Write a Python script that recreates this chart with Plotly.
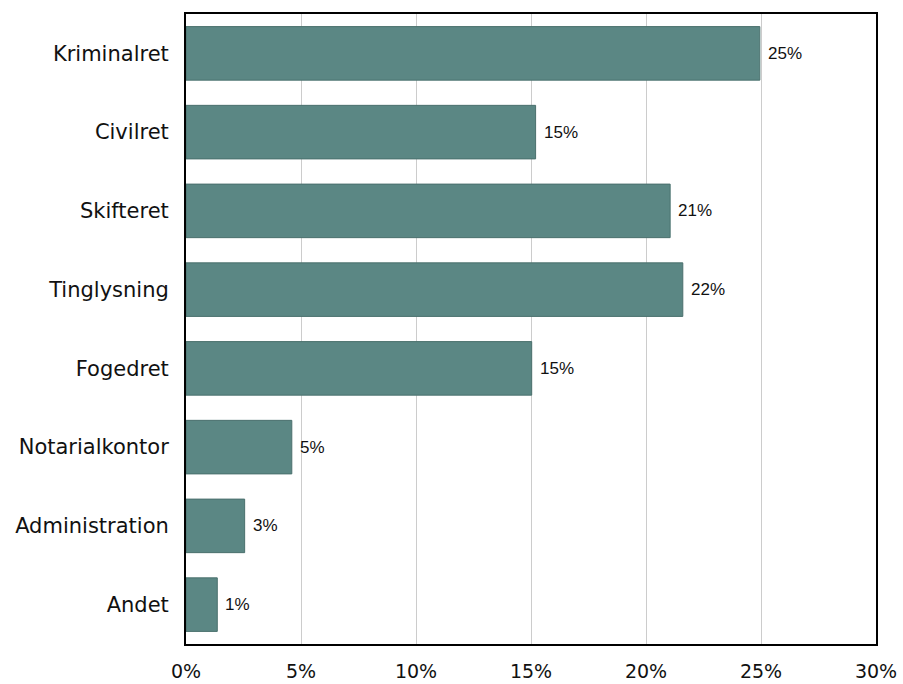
import plotly.graph_objects as go

categories = ["Kriminalret", "Civilret", "Skifteret", "Tinglysning", "Fogedret",
              "Notarialkontor", "Administration", "Andet"]
values = [24.95, 15.2, 21.05, 21.6, 15.03, 4.6, 2.55, 1.36]
labels = ["25%", "15%", "21%", "22%", "15%", "5%", "3%", "1%"]
x_ticks = [0, 5, 10, 15, 20, 25, 30]
x_tick_labels = ["0%", "5%", "10%", "15%", "20%", "25%", "30%"]

fig = go.Figure()
fig.add_trace(go.Bar(
    x=values, y=categories, orientation="h",
    marker=dict(color="#5b8784", line=dict(color="#4a706d", width=1)),
    hoverinfo="x+y",
))

for c, v, t in zip(categories, values, labels):
    fig.add_annotation(x=v, y=c, text=t, showarrow=False, xanchor="left",
                       xshift=6, font=dict(family="Liberation Sans, Arial", size=17, color="#111111"))

fig.update_layout(
    width=903, height=684, autosize=False,
    margin=dict(l=186, r=27, t=14, b=40),
    paper_bgcolor="white", plot_bgcolor="white",
    bargap=0.32,
    showlegend=False,
    font=dict(family="DejaVu Sans, Verdana", size=20, color="#111111"),
)
fig.update_xaxes(
    range=[0, 30], tickvals=x_ticks, ticktext=x_tick_labels,
    showgrid=True, gridcolor="#cccccc", gridwidth=1,
    showline=True, linecolor="black", linewidth=2, mirror=True,
    zeroline=False, ticks="", ticklabelstandoff=9, automargin=False,
    tickfont=dict(family="DejaVu Sans, Verdana", size=19, color="#111111"),
)
fig.update_yaxes(
    autorange="reversed", automargin=False,
    showline=True, linecolor="black", linewidth=2, mirror=True,
    ticks="", ticklabelstandoff=11,
    tickfont=dict(family="DejaVu Sans, Verdana", size=21, color="#111111"),
)

fig.write_html(
    "out.html",
    config={"displayModeBar": False},
    post_script=(
        "document.body.style.margin='0';"
        "document.body.style.overflow='hidden';"
    ),
)
